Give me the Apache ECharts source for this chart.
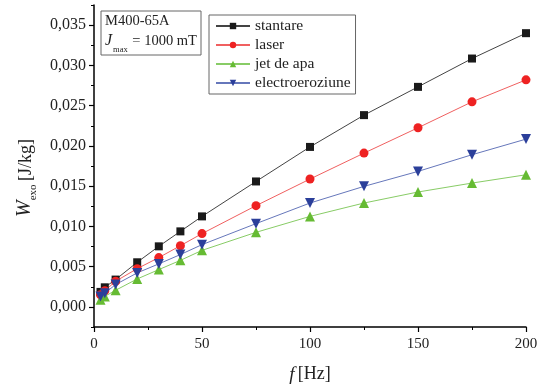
<!DOCTYPE html>
<html><head><meta charset="utf-8">
<script src="https://cdn.jsdelivr.net/npm/echarts@6/dist/echarts.min.js"></script>
<style>html,body{margin:0;padding:0;background:#fff}#c{width:543px;height:389px}</style>
</head><body><div id="c"></div>
<script>
var freq = [3, 5, 10, 20, 30, 40, 50, 75, 100, 125, 150, 175, 200];
var stantare = [0.00186, 0.00243, 0.00339, 0.00554, 0.00752, 0.00938, 0.01124, 0.01558, 0.01987, 0.02382, 0.02733, 0.03085, 0.0340];
var laser = [0.0015, 0.0020, 0.00318, 0.00475, 0.00612, 0.0076, 0.0091, 0.01257, 0.01588, 0.0191, 0.02225, 0.02547, 0.0282];
var jetDeApa = [0.0009, 0.0013, 0.00206, 0.00347, 0.00463, 0.00578, 0.00702, 0.00926, 0.01124, 0.0129, 0.01427, 0.01538, 0.01641];
var electro = [0.0013, 0.0017, 0.00277, 0.00422, 0.00534, 0.0065, 0.00773, 0.01034, 0.0129, 0.01497, 0.01683, 0.0189, 0.02084];
var seriesNames = ['stantare', 'laser', 'jet de apa', 'electroeroziune'];
var yMajor = [0, 0.005, 0.010, 0.015, 0.020, 0.025, 0.030, 0.035];
var yMinor = [-0.0025, 0.0025, 0.0075, 0.0125, 0.0175, 0.0225, 0.0275, 0.0325, 0.0375];

function pairs(ys){ return freq.map(function(x,i){ return [x, ys[i]]; }); }
var FONT = '"Liberation Serif", "DejaVu Serif", serif';

function mk(name, data, symbol, size, mColor, lColor){
  return {
    name: name, type: 'line', data: pairs(data), yAxisIndex: 0,
    symbol: symbol, symbolSize: size, showSymbol: true,
    itemStyle: { color: mColor },
    lineStyle: { color: lColor, width: 1 },
    emphasis: { disabled: true }, animation: false, clip: false
  };
}
function fmtY(v){
  var k = Math.round(v / 0.005);
  if (Math.abs(v - k * 0.005) > 1e-7 || v < -1e-9) return '';
  return v.toFixed(3).replace('.', ',');
}

var chart = echarts.init(document.getElementById('c'));
chart.setOption({
  backgroundColor: '#fff',
  animation: false,
  grid: { left: 94, right: 17, top: 5, bottom: 62, containLabel: false },
  xAxis: {
    type: 'value', min: 0, max: 200, interval: 50,
    axisLine: { show: true, onZero: false, lineStyle: { color: '#000', width: 1.5 } },
    axisTick: { show: true, inside: false, length: 5, lineStyle: { color: '#000', width: 1.2 } },
    minorTick: { show: true, splitNumber: 2, length: 3, lineStyle: { color: '#000', width: 1 } },
    splitLine: { show: false },
    axisLabel: { color: '#222', fontFamily: FONT, fontSize: 15, margin: 10 },
    name: '{i|f} {n|[Hz]}', nameLocation: 'middle', nameGap: 38,
    nameTextStyle: { rich: {
      i: { fontFamily: FONT, fontSize: 19, fontStyle: 'italic', color: '#222' },
      n: { fontFamily: FONT, fontSize: 18, color: '#222' } } }
  },
  yAxis: [{
    type: 'value', min: -0.0025, max: 0.0375, interval: 0.0025,
    axisLine: { show: true, onZero: false, lineStyle: { color: '#000', width: 1.5 } },
    axisTick: { show: true, inside: false, length: 5, customValues: yMajor, lineStyle: { color: '#000', width: 1.2 } },
    splitLine: { show: false },
    axisLabel: {
      color: '#222', fontFamily: FONT, fontSize: 16, margin: 8,
      customValues: yMajor,
      formatter: fmtY
    },
    name: '{i|W}{s|exo} {n|[J/kg]}', nameLocation: 'middle', nameGap: 56, nameRotate: 90,
    nameTextStyle: { padding: [0, 24, 0, 0], rich: {
      i: { fontFamily: FONT, fontSize: 20, fontStyle: 'italic', color: '#222', verticalAlign: 'bottom', lineHeight: 22 },
      s: { fontFamily: FONT, fontSize: 11, color: '#222', verticalAlign: 'bottom', lineHeight: 14, padding: [0, 0, -4, 0] },
      n: { fontFamily: FONT, fontSize: 18, color: '#222', verticalAlign: 'bottom', lineHeight: 22 } } }
  }, {
    type: 'value', min: -0.0025, max: 0.0375, interval: 0.0025, position: 'left',
    axisLine: { show: false },
    axisTick: { show: true, inside: false, length: 3, customValues: yMinor, lineStyle: { color: '#000', width: 1 } },
    axisLabel: { show: false },
    splitLine: { show: false }
  }],
  legend: {
    orient: 'vertical', left: 209, top: 15,
    data: seriesNames,
    itemWidth: 34, itemHeight: 8, itemGap: 3,
    borderColor: '#666', borderWidth: 1, padding: [3, 5, 3, 6],
    textStyle: { fontFamily: FONT, fontSize: 15.5, color: '#222', lineHeight: 16 }
  },
  graphic: [
    { type: 'rect', shape: { x: 101, y: 11, width: 100, height: 44 },
      style: { fill: '#fff', stroke: '#666', lineWidth: 1 } },
    { type: 'text', left: 105, top: 14,
      style: { text: 'M400-65A', font: '14.5px ' + FONT, fill: '#222' } },
    { type: 'text', left: 105, top: 33,
      style: { rich: {
        j: { fontFamily: FONT, fontSize: 16, fontStyle: 'italic', fill: '#222', verticalAlign: 'bottom' },
        m: { fontFamily: FONT, fontSize: 8.5, fill: '#222', verticalAlign: 'bottom', padding: [0, 1, -5, 1] },
        t: { fontFamily: FONT, fontSize: 14.5, fill: '#222', verticalAlign: 'bottom' } },
        text: '{j|J}{m|max}{t| = 1000 mT}' } }
  ],
  series: [
    mk('stantare', stantare, 'rect', 8, '#1a1a1a', '#444'),
    mk('laser', laser, 'circle', 9, '#ee2222', '#f06060'),
    mk('jet de apa', jetDeApa, 'triangle', 10, '#66bb33', '#88cc66'),
    mk('electroeroziune', electro, 'path://M0,0 L10,0 L5,10 Z', 10, '#2b3f9a', '#6677bb')
  ]
});
</script></body></html>
